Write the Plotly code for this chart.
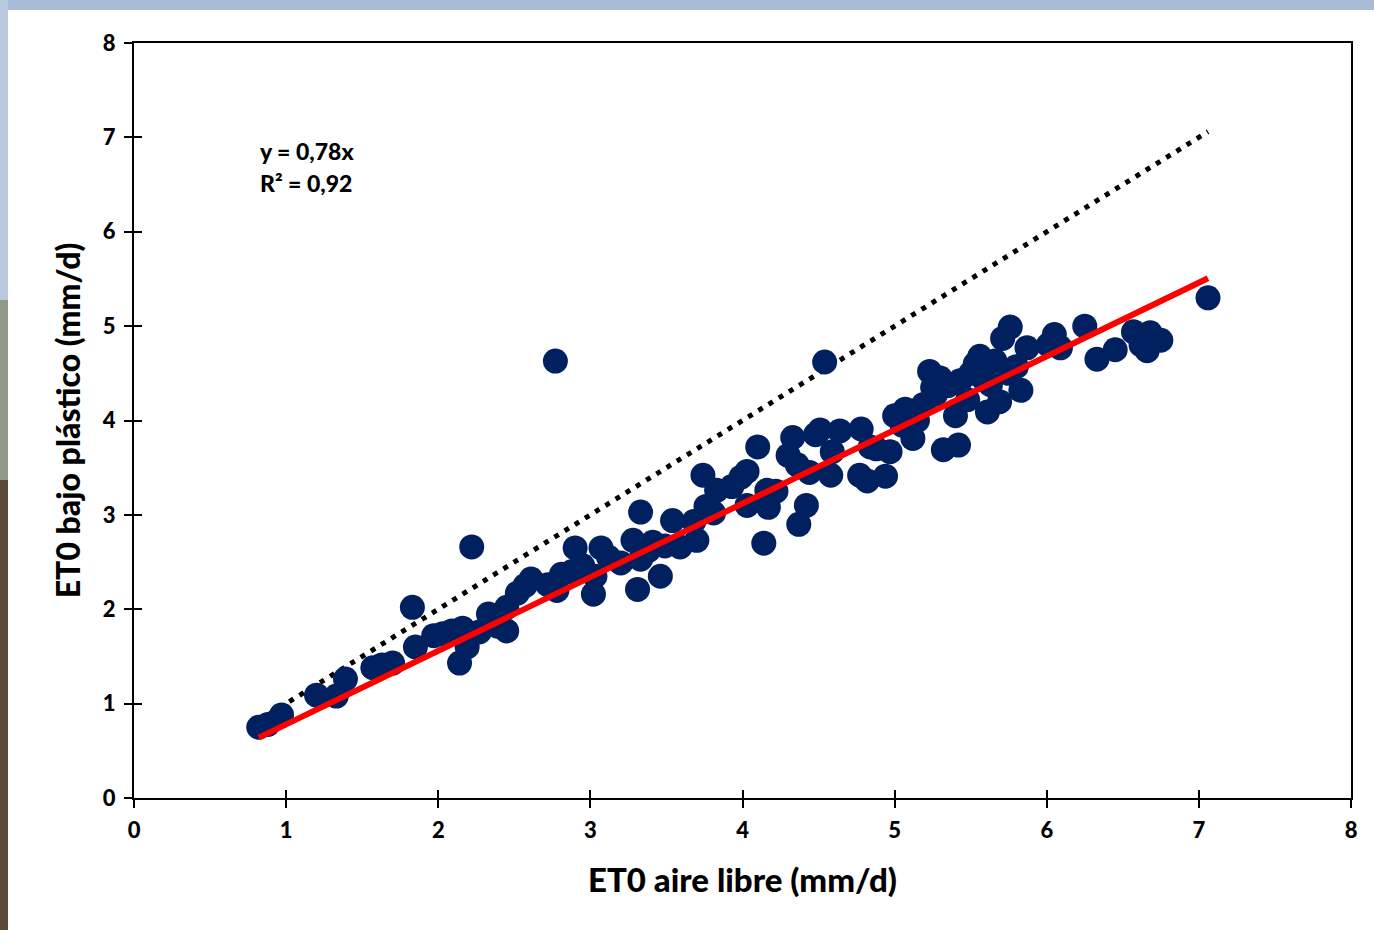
import plotly.graph_objects as go

# ---- data ----
eto_aire_libre = [
    0.82, 0.88, 0.97, 1.20, 1.33, 1.39, 1.57, 1.63, 1.70, 1.83, 1.85, 1.97, 2.03, 2.09, 2.16,
    2.14, 2.19, 2.22, 2.27, 2.33, 2.39, 2.45, 2.45, 2.52, 2.61, 2.72, 2.78, 2.77, 2.81, 2.88,
    2.90, 2.95, 3.02, 3.03, 3.07, 3.20, 3.28, 3.31, 3.33, 3.33, 3.41, 3.46, 3.49, 3.54, 3.59,
    3.70, 3.68, 3.74, 3.81, 3.83, 3.76, 3.99, 4.03, 4.03, 4.10, 4.14, 4.16, 4.17, 4.30, 4.33,
    4.36, 4.37, 4.42, 4.44, 4.51, 4.54, 4.58, 4.59, 4.64, 4.78, 4.77, 4.82, 4.84, 4.94, 4.97,
    5.00, 5.07, 5.12, 5.19, 5.23, 5.27, 5.30, 5.32, 5.35, 5.40, 5.43, 5.42, 5.48, 5.53, 5.56,
    5.59, 5.61, 5.66, 5.69, 5.71, 5.76, 5.80, 5.83, 5.87, 6.01, 6.05, 6.09, 6.25, 6.33, 6.45,
    6.57, 6.62, 6.66, 6.68, 6.75, 7.06,
    5.15, 5.25, 5.05, 4.48, 3.93, 4.22, 5.50, 5.63, 5.75, 6.70, 2.57, 3.12, 3.38, 4.88,
]
eto_bajo_plastico = [
    0.75, 0.78, 0.88, 1.09, 1.08, 1.26, 1.38, 1.41, 1.43, 2.02, 1.60, 1.72, 1.74, 1.77, 1.80,
    1.43, 1.60, 2.66, 1.76, 1.95, 1.82, 1.77, 2.02, 2.17, 2.32, 2.26, 2.20, 4.63, 2.37, 2.40,
    2.65, 2.46, 2.16, 2.35, 2.65, 2.49, 2.73, 2.21, 3.03, 2.53, 2.71, 2.35, 2.67, 2.94, 2.66,
    2.73, 2.93, 3.42, 3.02, 3.26, 3.09, 3.40, 3.46, 3.10, 3.72, 2.70, 3.26, 3.08, 3.63, 3.82,
    3.53, 2.90, 3.10, 3.45, 3.90, 4.62, 3.42, 3.67, 3.89, 3.91, 3.42, 3.36, 3.72, 3.41, 3.67,
    4.05, 4.12, 3.81, 4.17, 4.52, 4.28, 4.45, 3.69, 4.37, 4.05, 4.42, 3.74, 4.22, 4.60, 4.68,
    4.43, 4.09, 4.63, 4.20, 4.87, 4.99, 4.57, 4.32, 4.77, 4.80, 4.91, 4.77, 5.00, 4.65, 4.75,
    4.94, 4.80, 4.74, 4.93, 4.85, 5.30,
    4.00, 4.35, 3.95, 3.85, 3.30, 3.25, 4.50, 4.38, 4.50, 4.88, 2.25, 2.55, 2.62, 3.70,
]
slope = 0.78
r2 = 0.92
x_ticks = [0, 1, 2, 3, 4, 5, 6, 7, 8]
y_ticks = [0, 1, 2, 3, 4, 5, 6, 7, 8]

x_lo, x_hi = min(eto_aire_libre), max(eto_aire_libre)

FONT = "Lato"
WEIGHT = 900
W, H = 1374, 930
ML, MR, MT, MB = 134, 23, 43, 132
PW, PH = W - ML - MR, H - MT - MB


def px_x(p):
    return (p - ML) / PW


def px_y(p):
    return (H - MB - p) / PH


fig = go.Figure()

# 1:1 line (dotted)
fig.add_trace(go.Scatter(
    x=[x_lo, x_hi], y=[x_lo, x_hi], mode="lines",
    line=dict(color="black", width=5, dash="5px,7px"),
    showlegend=False, hoverinfo="skip"))

# data points
fig.add_trace(go.Scatter(
    x=eto_aire_libre, y=eto_bajo_plastico, mode="markers",
    marker=dict(color="#002060", size=25, line=dict(width=0)),
    showlegend=False))

# regression line y = 0.78x
fig.add_trace(go.Scatter(
    x=[x_lo, x_hi], y=[slope * x_lo, slope * x_hi], mode="lines",
    line=dict(color="#ff0000", width=6),
    showlegend=False, hoverinfo="skip"))

# dummy trace for overlay axes (inside ticks)
fig.add_trace(go.Scatter(x=[], y=[], xaxis="x2", yaxis="y2", showlegend=False))

tickfont = dict(family=FONT, size=22, color="black", weight=WEIGHT)
axis_common = dict(
    range=[0, 8], tickvals=x_ticks, showgrid=False, zeroline=False,
    showline=True, linecolor="black", linewidth=2, mirror=True,
    ticks="outside", ticklen=8, tickwidth=2, tickcolor="black",
    tickfont=tickfont,
)

fig.update_layout(
    width=W, height=H,
    margin=dict(l=ML, r=MR, t=MT, b=MB),
    paper_bgcolor="white", plot_bgcolor="white",
    xaxis=dict(**axis_common, ticklabelstandoff=4,
               title=dict(text="ET0 aire libre (mm/d)", standoff=26,
                          font=dict(family=FONT, size=33, color="black", weight=WEIGHT))),
    yaxis=dict(**{**axis_common, "tickvals": y_ticks},
               title=dict(text="ET0 bajo plástico (mm/d)", standoff=13,
                          font=dict(family=FONT, size=32, color="black", weight=WEIGHT)),
               ticklabelstandoff=4),
    xaxis2=dict(overlaying="x", anchor="y2", range=[0, 8], tickvals=x_ticks,
                ticks="inside", ticklen=8, tickwidth=2, tickcolor="black",
                showticklabels=False, showgrid=False, zeroline=False, showline=False),
    yaxis2=dict(overlaying="y", anchor="x2", range=[0, 8], tickvals=y_ticks,
                ticks="inside", ticklen=8, tickwidth=2, tickcolor="black",
                showticklabels=False, showgrid=False, zeroline=False, showline=False),
    annotations=[
        dict(x=0.815, y=6.86, xref="x", yref="y", text="y = 0,78x", showarrow=False,
             xanchor="left", yanchor="middle",
             font=dict(family=FONT, size=23, color="black", weight=WEIGHT)),
        dict(x=0.815, y=6.52, xref="x", yref="y", text="R² = 0,92", showarrow=False,
             xanchor="left", yanchor="middle",
             font=dict(family=FONT, size=23, color="black", weight=WEIGHT)),
    ],
    shapes=[
        # top background strip
        dict(type="rect", xref="paper", yref="paper", layer="below",
             x0=px_x(0), x1=px_x(W), y0=px_y(10), y1=px_y(0),
             fillcolor="#a9bcd6", line=dict(width=0)),
        # left background strip (photo edge)
        dict(type="rect", xref="paper", yref="paper", layer="below",
             x0=px_x(0), x1=px_x(8), y0=px_y(300), y1=px_y(0),
             fillcolor="#b9c9dd", line=dict(width=0)),
        dict(type="rect", xref="paper", yref="paper", layer="below",
             x0=px_x(0), x1=px_x(8), y0=px_y(480), y1=px_y(300),
             fillcolor="#8f9a88", line=dict(width=0)),
        dict(type="rect", xref="paper", yref="paper", layer="below",
             x0=px_x(0), x1=px_x(8), y0=px_y(H), y1=px_y(480),
             fillcolor="#5b4a3a", line=dict(width=0)),
    ],
)

fig.write_html("out.html")
